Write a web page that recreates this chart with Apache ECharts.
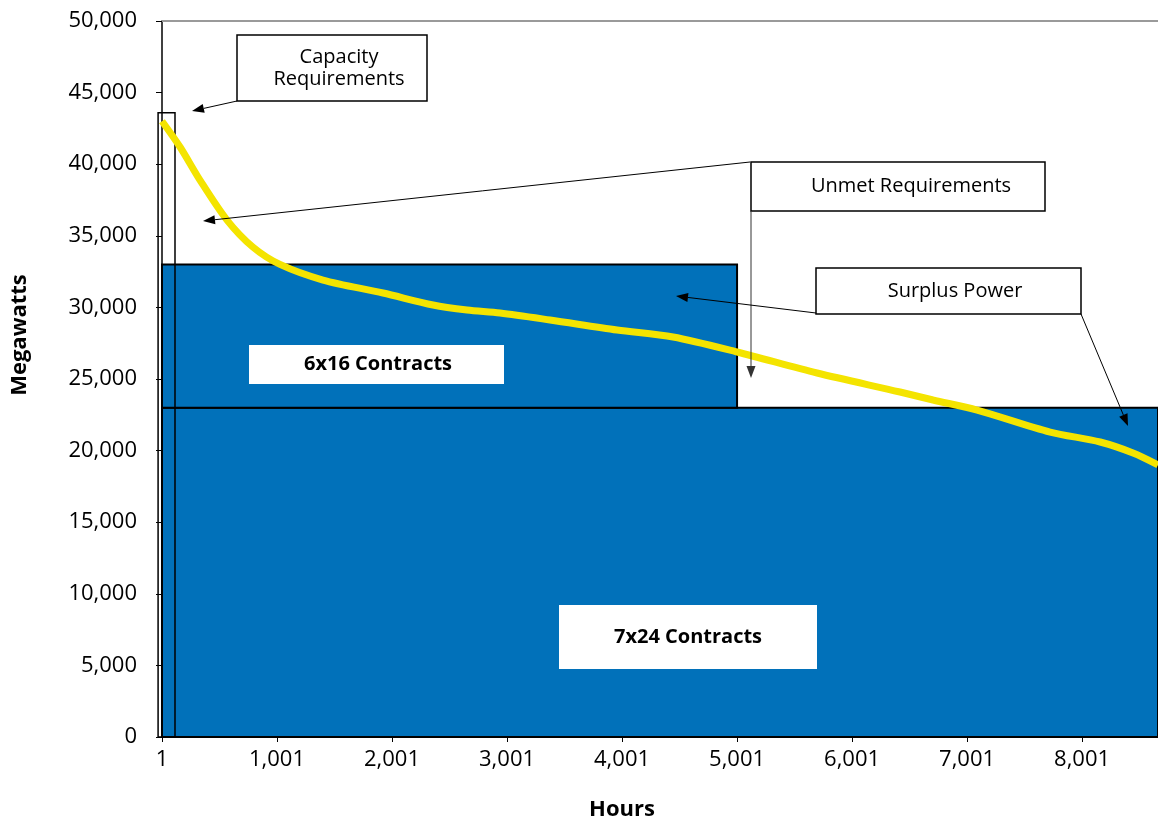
<!DOCTYPE html>
<html>
<head>
<meta charset="utf-8">
<script src="https://cdn.jsdelivr.net/npm/echarts@6/dist/echarts.min.js"></script>
<style>
html,body{margin:0;padding:0;background:#fff;}
#chart{width:1158px;height:823px;}
</style>
</head>
<body>
<div id="chart"></div>
<script>
// ---- data ----
const hours  = [1, 158, 331, 566, 792, 1027, 1401, 1923, 2358, 2653, 2940, 3375, 3958, 4445, 5001, 5697, 6418, 6705, 7088, 7723, 8158, 8444, 8661];
const loadMW = [43000, 41200, 38890, 36100, 34210, 33000, 31912, 31005, 30166, 29817, 29608, 29120, 28420, 27932, 26885, 25418, 24091, 23533, 22835, 21298, 20600, 19832, 19000];

const blockNames = ['7x24 Contracts', '6x16 Contracts'];
const blockStart = [1, 1];
const blockEnd   = [8661, 5001];
const blockLow   = [0, 23000];
const blockHigh  = [23000, 33000];

const capacityStart = [-33];
const capacityEnd   = [114];
const capacityPeak  = [43600];

const xMin = 1, xMax = 8661, xStep = 1000;
const yMin = 0, yMax = 50000, yStep = 5000;

// ---- chart ----
const FONT = '"Open Sans", "Noto Sans", sans-serif';
const BLUE = '#0171BA';
const YELLOW = '#F4E400';
const chart = echarts.init(document.getElementById('chart'), null, {renderer: 'canvas'});

const blockData = blockNames.map((n, i) => [blockStart[i], blockEnd[i], blockLow[i], blockHigh[i]]);
const capData = capacityStart.map((s, i) => [s, capacityEnd[i], 0, capacityPeak[i]]);
const lineData = hours.map((h, i) => [h, loadMW[i]]);

function rectItem(fill, stroke, lw) {
  return function (params, api) {
    const p0 = api.coord([api.value(0), api.value(3)]);
    const p1 = api.coord([api.value(1), api.value(2)]);
    return {
      type: 'rect',
      shape: {x: p0[0], y: p0[1], width: p1[0] - p0[0], height: p1[1] - p0[1]},
      style: {fill: fill, stroke: stroke, lineWidth: lw}
    };
  };
}

function arrow(x1, y1, x2, y2, color) {
  const a = Math.atan2(y2 - y1, x2 - x1);
  const L = 12, W = 4.5;
  const bx = x2 - L * Math.cos(a), by = y2 - L * Math.sin(a);
  const nx = -Math.sin(a) * W, ny = Math.cos(a) * W;
  return [
    {type: 'line', z: 100, shape: {x1: x1, y1: y1, x2: bx, y2: by}, style: {stroke: color, lineWidth: 1}},
    {type: 'polygon', z: 100, shape: {points: [[x2, y2], [bx + nx, by + ny], [bx - nx, by - ny]]}, style: {fill: color}}
  ];
}

function box(x, y, w, h, text, tx, border, bold) {
  return [
    {type: 'rect', z: 100, shape: {x: x, y: y, width: w, height: h},
     style: {fill: '#fff', stroke: border ? '#000' : null, lineWidth: border ? 1.5 : 0}},
    {type: 'text', z: 101, x: tx, y: y + h / 2,
     style: {text: text, fill: '#000', font: (bold ? 'bold ' : '') + '20px ' + FONT,
             align: 'center', verticalAlign: 'middle', lineHeight: 22}}
  ];
}

const graphics = [].concat(
  box(237, 35, 190, 66, 'Capacity\nRequirements', 339, true, false),
  box(751, 162, 294, 49, 'Unmet Requirements', 911, true, false),
  box(816, 268, 265, 46, 'Surplus Power', 955, true, false),
  box(249, 345, 255, 39, '6x16 Contracts', 378, false, true),
  box(559, 605, 258, 64, '7x24 Contracts', 688, false, true),
  arrow(237, 101, 192, 111, '#000'),
  arrow(750, 162, 203, 221, '#000'),
  arrow(751, 211, 751, 378, '#333'),
  arrow(816, 313, 676, 296, '#000'),
  arrow(1081, 314, 1128, 426, '#000'),
  [
    {type: 'text', x: 20, y: 335, rotation: Math.PI / 2,
     style: {text: 'Megawatts', font: 'bold 22px ' + FONT, fill: '#000', align: 'center', verticalAlign: 'middle'}},
    {type: 'text', x: 622, y: 810,
     style: {text: 'Hours', font: 'bold 22px ' + FONT, fill: '#000', align: 'center', verticalAlign: 'middle'}}
  ]
);

const option = {
  animation: false,
  backgroundColor: '#fff',
  grid: {left: 162, top: 21, right: 0, height: 716, containLabel: false},
  xAxis: [{
    type: 'value', min: xMin, max: xMax, interval: xStep,
    axisLine: {show: true, lineStyle: {color: '#000', width: 1.5}},
    axisTick: {show: true, inside: false, length: 5, lineStyle: {color: '#000'}},
    axisLabel: {color: '#000', fontSize: 22, fontFamily: FONT, margin: 12,
                formatter: v => v.toLocaleString('en-US'), showMaxLabel: false},
    splitLine: {show: false}
  }, {
    type: 'value', position: 'top', min: xMin, max: xMax,
    axisLine: {show: true, lineStyle: {color: '#9a9a9a', width: 2}},
    axisTick: {show: false}, axisLabel: {show: false}, splitLine: {show: false}
  }],
  yAxis: {
    type: 'value', min: yMin, max: yMax, interval: yStep,
    axisLine: {show: true, lineStyle: {color: '#000', width: 1.5}},
    axisTick: {show: true, inside: false, length: 6, lineStyle: {color: '#000'}},
    axisLabel: {color: '#000', fontSize: 22, fontFamily: FONT, margin: 25,
                formatter: v => v.toLocaleString('en-US')},
    splitLine: {show: false}
  },
  series: [
    {type: 'custom', name: 'blocks', xAxisIndex: 0, z: 2, clip: false,
     renderItem: rectItem(BLUE, '#000', 2), data: blockData},
    {type: 'custom', name: 'capacity', xAxisIndex: 0, z: 3, clip: false,
     renderItem: rectItem(null, '#000', 1.5), data: capData},
    {type: 'line', name: 'load', xAxisIndex: 0, z: 4, data: lineData,
     smooth: 0.3, symbol: 'none',
     lineStyle: {color: YELLOW, width: 7}}
  ],
  graphic: graphics
};
chart.setOption(option);
</script>
</body>
</html>
